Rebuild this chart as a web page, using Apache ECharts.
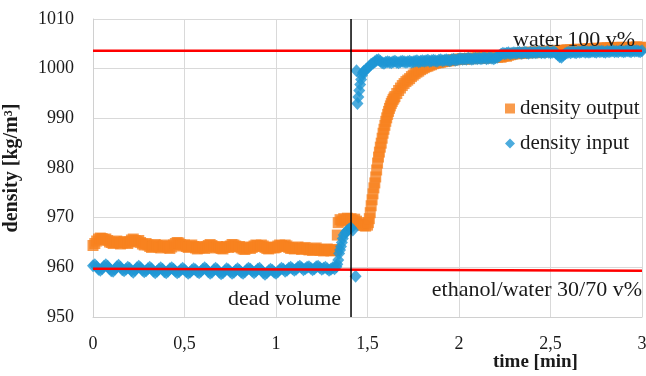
<!DOCTYPE html>
<html>
<head>
<meta charset="utf-8">
<script src="https://cdn.jsdelivr.net/npm/echarts@6/dist/echarts.min.js"></script>
<style>
html,body{margin:0;padding:0;background:#fff;}
#chart{width:646px;height:376px;}
</style>
</head>
<body>
<div id="chart"></div>
<script>
// x ticks (min) and y ticks (kg/m3)
const xTickLabels = ["0", "0,5", "1", "1,5", "2", "2,5", "3"];
const yTicks = [950, 960, 970, 980, 990, 1000, 1010];

// ---- density output ----
// baseline readings, one every 0.01 min from t = 0.00
const outBaseStart = 0.00, outBaseStep = 0.01;
const outBaseValues = [
964.4,964.8,965.3,965.7,965.9,965.8,965.6,965.7,965.4,965.1,
965.0,964.8,965.1,965.3,965.0,964.7,964.9,965.2,965.0,964.8,
965.1,965.5,965.7,965.4,965.2,965.4,965.0,964.7,964.5,964.8,
964.5,964.2,964.0,964.3,964.6,964.4,964.1,963.9,964.2,964.5,
964.3,964.0,963.8,964.1,964.5,964.8,965.0,964.9,964.6,964.3,
964.5,964.2,964.0,964.3,964.5,964.2,963.9,963.7,963.9,964.2,
964.0,963.8,964.1,964.4,964.6,964.4,964.1,963.9,964.2,964.0,
963.8,963.7,964.0,964.2,964.0,964.3,964.6,964.5,964.3,964.1,
964.2,963.9,963.7,963.6,963.9,964.1,963.8,964.0,964.3,964.5,
964.4,964.2,964.5,964.3,964.0,963.8,963.7,963.9,964.1,963.9,
964.0,964.3,964.5,964.4,964.2,964.5,964.3,964.0,963.8,963.9,
963.7,963.9,964.1,963.8,963.6,963.8,964.0,963.7,963.5,963.6,
963.4,963.7,963.9,963.6,963.4,963.6,963.3,963.5,963.7,963.4,
963.3,963.6,963.4,963.5
];
// transition readings [time, density]
const outTransition = [
[1.335,966.5],[1.34,969.0],[1.35,969.6],[1.36,969.3],[1.37,969.8],[1.38,969.5],
[1.39,969.9],[1.40,969.6],[1.41,969.8],[1.42,969.4],[1.43,969.7],[1.44,969.3],[1.45,969.0],[1.46,968.7],[1.47,968.5],[1.48,968.4],
[1.49,968.3],[1.50,968.5],[1.505,969.0],[1.51,969.8],[1.515,971.0],[1.52,972.4],[1.525,973.6],[1.53,974.8],[1.535,976.0],[1.54,977.0],
[1.545,978.2],[1.55,979.6],[1.555,981.0],[1.56,982.2],[1.565,983.2],[1.57,984.2],[1.575,985.0],[1.58,986.0],[1.585,987.0],[1.59,987.8],
[1.595,988.6],[1.60,989.4],[1.605,990.1],[1.61,990.8],[1.615,991.4],[1.62,992.0],[1.625,992.5],[1.63,993.0],[1.635,993.4],[1.64,993.8],
[1.645,994.1],[1.65,994.4],[1.66,995.0],[1.67,995.6],[1.68,996.1],[1.69,996.6],[1.70,997.0],[1.71,997.4],[1.72,997.7],[1.73,998.0],
[1.74,998.4],[1.75,998.7]
];
// end readings, one every 0.01 min from t = 1.76
const outEndStart = 1.76, outEndStep = 0.01;
const outEndValues = [
999.0,999.3,999.5,999.8,1000.0,1000.2,1000.4,1000.5,1000.7,1000.8,
1001.0,1001.1,1001.2,1001.2,1001.3,1001.4,1001.5,1001.5,1001.6,1001.6,
1001.7,1001.8,1001.8,1001.9,1001.9,
1001.9,1002.0,1001.9,1002.0,1002.0,1002.1,1002.0,1002.1,1002.1,1002.2,
1002.1,1002.2,1002.2,1002.1,1002.2,1002.3,1002.2,1002.3,1002.3,1002.4,
1002.3,1002.4,1002.3,1002.5,1002.6,1002.5,1002.7,1002.8,1002.9,1003.0,
1003.1,1003.0,1003.1,1003.2,1003.1,1003.2,1003.3,1003.2,1003.3,1003.3,
1003.2,1003.4,1003.3,1003.4,1003.3,1003.5,1003.4,1003.5,1003.4,1003.5,
1003.6,1003.5,1003.6,1003.5,1003.7,1003.6,1003.7,1003.6,1003.8,1003.7,
1003.8,1003.7,1003.8,1003.9,1003.8,1003.9,1003.8,1003.9,1004.0,1003.9,
1004.0,1003.9,1004.0,1004.1,1004.0,1004.1,1004.0,1004.1,1004.2,1004.1,
1004.2,1004.1,1004.2,1004.1,1004.3,1004.2,1004.1,1004.2,1004.3,1004.2,
1004.3,1004.2,1004.1,1004.3,1004.2,1004.3,1004.4,1004.2,1004.3,1004.3
];

// ---- density input ----
const inBaseStart = 0.00, inBaseStep = 0.01;
const inBaseValues = [
960.3,960.5,960.1,959.6,959.4,959.7,960.2,960.5,960.2,959.7,
959.3,959.2,959.6,960.1,960.4,960.0,959.5,959.3,959.6,960.0,
959.8,959.3,959.0,959.4,959.9,960.2,959.9,959.4,959.1,959.3,
959.7,960.0,959.7,959.2,958.9,959.2,959.6,959.9,959.6,959.1,
958.9,959.2,959.7,959.9,959.6,959.2,958.9,959.1,959.5,959.8,
959.5,959.1,958.8,959.0,959.4,959.7,959.5,959.1,958.9,959.2,
959.6,959.9,959.6,959.1,958.8,959.0,959.5,959.8,959.5,959.0,
958.7,958.9,959.3,959.7,959.5,959.1,958.8,959.0,959.4,959.7,
959.4,959.0,958.8,959.1,959.5,959.8,959.6,959.2,958.9,959.2,
959.6,959.8,959.4,958.9,958.6,958.9,959.3,959.6,959.4,959.0,
958.8,959.1,959.5,959.8,959.6,959.2,959.4,959.8,960.0,959.7,
959.4,959.6,960.0,960.2,959.9,959.5,959.7,960.0,960.1,959.8,
959.5,959.7,960.1,960.2,959.9,959.6,959.8,960.0,959.7,959.4,
959.6,959.9,959.7,960.1
];
const inTransition = [
[1.335,960.6],[1.34,961.5],[1.345,962.8],[1.35,963.5],[1.355,964.2],[1.36,965.0],
[1.365,965.8],[1.37,966.5],[1.38,967.0],[1.39,967.4],[1.40,967.7],[1.41,967.9],[1.42,967.5],[1.435,958.2],[1.44,999.6],[1.445,993.0],
[1.45,994.3],[1.455,995.6],[1.46,996.8],[1.465,997.8],[1.47,998.6],[1.475,999.2],[1.48,999.5],[1.49,999.8],[1.50,1000.1],[1.51,1000.5],
[1.52,1000.9],[1.53,1001.1],[1.54,1001.4],[1.55,1001.7],[1.56,1001.8],[1.57,1001.5],[1.58,1001.2],[1.59,1001.1],[1.60,1001.3]
];
const inEndStart = 1.61, inEndStep = 0.01;
const inEndValues = [
1001.4,1001.3,1001.2,1001.4,1001.5,1001.3,1001.2,1001.4,1001.5,1001.4,
1001.3,1001.4,1001.5,1001.3,1001.4,1001.5,1001.6,1001.4,1001.5,1001.6,
1001.5,1001.6,1001.7,1001.5,1001.6,1001.7,1001.6,1001.5,1001.7,1001.8,
1001.6,1001.7,1001.8,1001.7,1001.6,1001.8,1001.9,1001.7,1001.8,1001.9,
1002.0,1001.9,1002.0,1001.9,1002.1,1002.0,1001.9,1002.0,1002.1,1002.0,
1002.1,1002.0,1002.1,1002.2,1002.0,1002.1,1002.2,1002.1,1002.0,1002.2,
1002.3,1002.6,1002.9,1003.1,1003.0,1003.1,1003.2,1003.0,1003.1,1003.2,
1003.1,1003.2,1003.3,1003.1,1003.2,1003.3,1003.2,1003.1,1003.3,1003.2,
1003.3,1003.2,1003.3,1003.4,1003.2,1003.3,1003.2,1003.4,1003.3,1003.2,
1003.3,1003.4,1003.1,1002.8,1002.4,1002.3,1002.7,1003.0,1003.2,1003.3,
1003.2,1003.4,1003.3,1003.2,1003.4,1003.3,1003.4,1003.5,1003.3,1003.4,
1003.3,1003.4,1003.5,1003.4,1003.3,1003.5,1003.4,1003.5,1003.4,1003.3,
1003.5,1003.4,1003.5,1003.6,1003.4,1003.5,1003.4,1003.6,1003.5,1003.4,
1003.5,1003.6,1003.5,1003.4,1003.6,1003.5,1003.6,1003.5,1003.4,1003.6
];

// reference lines
const waterLine = [[0, 1003.6], [3, 1003.6]];
const ethanolLine = [[0, 959.7], [3, 959.3]];
const deadVolumeTime = 1.41;

function sampled(start, step, values) {
  return values.map(function (v, i) { return [+(start + i * step).toFixed(3), v]; });
}
const densityOutput = sampled(outBaseStart, outBaseStep, outBaseValues)
  .concat(outTransition, sampled(outEndStart, outEndStep, outEndValues));
const densityInput = sampled(inBaseStart, inBaseStep, inBaseValues)
  .concat(inTransition, sampled(inEndStart, inEndStep, inEndValues));

const FONT = "'Liberation Serif', 'DejaVu Serif', serif";
const TXT = '#1a1a1a';

const chart = echarts.init(document.getElementById('chart'), null, {renderer: 'canvas'});
chart.setOption({
  animation: false,
  backgroundColor: '#ffffff',
  grid: {left: 93, right: 4, top: 19, bottom: 59, containLabel: false, outerBoundsMode: 'none'},
  xAxis: {
    type: 'value', min: 0, max: 3, interval: 0.5,
    axisLine: {show: true, lineStyle: {color: '#d0d0d0', width: 1}},
    axisTick: {show: false},
    splitLine: {show: true, lineStyle: {color: '#d9d9d9', width: 1}},
    axisLabel: {
      margin: 18, fontSize: 18, fontFamily: FONT, color: TXT,
      formatter: function (v) { return xTickLabels[Math.round(v / 0.5)]; }
    }
  },
  yAxis: {
    type: 'value', min: yTicks[0], max: yTicks[yTicks.length - 1], interval: 10,
    axisLine: {show: true, lineStyle: {color: '#d0d0d0', width: 1}},
    axisTick: {show: false},
    splitLine: {show: true, lineStyle: {color: '#d9d9d9', width: 1}},
    axisLabel: {margin: 19, fontSize: 18, fontFamily: FONT, color: TXT,
      formatter: function (v) { return String(v); }},
    name: 'density [kg/m³]', nameLocation: 'middle', nameGap: 71, nameRotate: 90,
    nameTextStyle: {fontSize: 20, fontWeight: 'bold', fontFamily: FONT, color: TXT}
  },
  legend: {
    orient: 'vertical', left: 500, top: 93, itemGap: 14,
    itemWidth: 10, itemHeight: 10,
    textStyle: {fontSize: 21, fontFamily: FONT, color: TXT},
    data: ['density output', 'density input']
  },
  series: [
    {
      name: 'density output', type: 'scatter', symbol: 'rect', symbolSize: 11,
      itemStyle: {color: '#F8821F'}, data: densityOutput, z: 2
    },
    {
      name: 'density input', type: 'scatter', symbol: 'diamond', symbolSize: [12, 13],
      itemStyle: {color: '#1E96D4'}, data: densityInput, z: 3
    },
    {
      name: 'water', type: 'line', data: waterLine, symbol: 'none', silent: true,
      lineStyle: {color: '#FF0000', width: 2.5}, z: 5
    },
    {
      name: 'ethanol', type: 'line', data: ethanolLine, symbol: 'none', silent: true,
      lineStyle: {color: '#FF0000', width: 2.5}, z: 5
    },
    {
      name: 'dead', type: 'line', data: [[deadVolumeTime, yTicks[0]], [deadVolumeTime, yTicks[yTicks.length - 1]]],
      symbol: 'none', silent: true,
      lineStyle: {color: '#000000', width: 1.5}, z: 6
    }
  ],
  graphic: [
    {type: 'text', left: 513, top: 29, z: 10,
     style: {text: 'water 100 v%', font: '22px ' + FONT, fill: TXT}},
    {type: 'text', left: 228, top: 288, z: 10,
     style: {text: 'dead volume', font: '22px ' + FONT, fill: TXT}},
    {type: 'text', right: 4, top: 279, z: 10,
     style: {text: 'ethanol/water 30/70 v%', font: '22px ' + FONT, fill: TXT}},
    {type: 'text', left: 493, top: 353, z: 10,
     style: {text: 'time [min]', font: 'bold 19px ' + FONT, fill: TXT}}
  ]
});
</script>
</body>
</html>
